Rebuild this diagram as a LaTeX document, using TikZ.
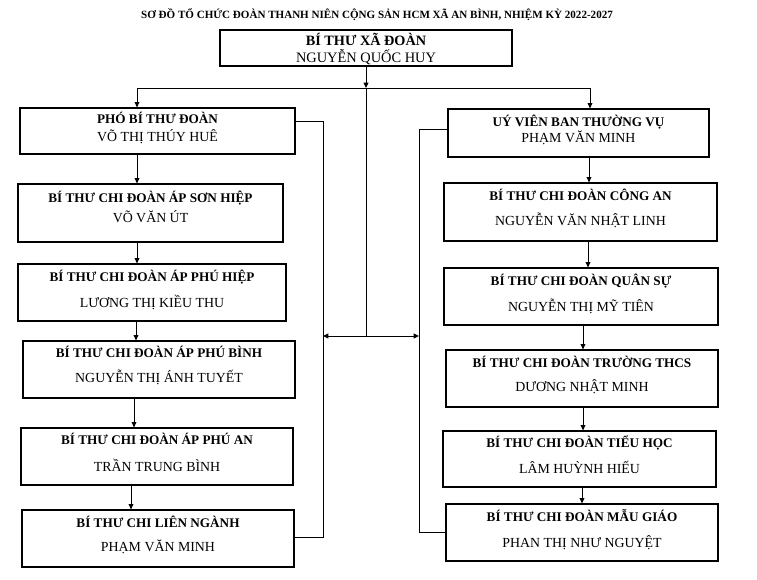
\documentclass[tikz,border=0pt]{standalone}
\usepackage{fontspec}
\setmainfont{Liberation Serif}
\usetikzlibrary{arrows.meta}
\tikzset{
  orgbox/.style={draw=black, line width=0.9pt, inner sep=0pt, rectangle},
  bt/.style={inner sep=0pt, font=\fontsize{9.9}{12}\selectfont\bfseries},
  nt/.style={inner sep=0pt, font=\fontsize{10.4}{12}\selectfont},
  conn/.style={draw=black, line width=0.7pt},
  arr/.style={conn, -{Triangle[length=4pt,width=3.6pt]}},
  darr/.style={conn, {Triangle[length=4pt,width=3.6pt]}-{Triangle[length=4pt,width=3.6pt]}}
}
\newcommand\orgnode[9]{%
  \node[orgbox, minimum width={(#4-#2)*0.75pt}, minimum height={(#5-#3)*0.75pt}] (#1) at ({(#2+#4)/2},{(#3+#5)/2}) {};
  \node[bt, anchor=base] (#1b) at ({(#2+#4)/2},#7) {#6};
  \node[nt, anchor=base] (#1n) at ({(#2+#4)/2},#9) {#8};
}
\begin{document}
\begin{tikzpicture}[x=0.75pt,y=-0.75pt]
\useasboundingbox (0,0) rectangle (757,580);
\fill[white] (0,0) rectangle (757,580);

\node[inner sep=0pt, anchor=base, font=\fontsize{8.3}{10}\selectfont\bfseries] (title) at (377,19)
  {SƠ ĐỒ TỔ CHỨC ĐOÀN THANH NIÊN CỘNG SẢN HCM XÃ AN BÌNH, NHIỆM KỲ 2022-2027};

% top box
\node[orgbox, minimum width={292*0.75pt}, minimum height={36*0.75pt}] (top) at (366,48) {};
\node[inner sep=0pt, anchor=base, font=\fontsize{10.7}{12}\selectfont\bfseries] (topb) at (366,46) {BÍ THƯ XÃ ĐOÀN};
\node[inner sep=0pt, anchor=base, font=\fontsize{10.8}{12}\selectfont] (topn) at (366,63) {NGUYỄN QUỐC HUY};

% left column
\orgnode{pho}{20}{108}{295}{154}{PHÓ BÍ THƯ ĐOÀN}{124}{VÕ THỊ THÚY HUÊ}{141.5}
\orgnode{sonhiep}{18}{184}{283}{242}{BÍ THƯ CHI ĐOÀN ÁP SƠN HIỆP}{202.5}{VÕ VĂN ÚT}{222.5}
\orgnode{phuhiep}{18}{264}{286}{321}{BÍ THƯ CHI ĐOÀN ÁP PHÚ HIỆP}{281.5}{LƯƠNG THỊ KIỀU THU}{307.5}
\orgnode{phubinh}{23}{341}{295}{398}{BÍ THƯ CHI ĐOÀN ÁP PHÚ BÌNH}{357.5}{NGUYỄN THỊ ÁNH TUYẾT}{382.5}
\orgnode{phuan}{21}{428}{293}{485}{BÍ THƯ CHI ĐOÀN ÁP PHÚ AN}{444.5}{TRẦN TRUNG BÌNH}{471.5}
\orgnode{lien}{22}{510}{294}{567}{BÍ THƯ CHI LIÊN NGÀNH}{527.5}{PHẠM VĂN MINH}{551.5}

% right column
\orgnode{uyvien}{448}{109}{709}{157}{UÝ VIÊN BAN THƯỜNG VỤ}{126.5}{PHẠM VĂN MINH}{142.5}
\orgnode{congan}{444}{183}{717}{241}{BÍ THƯ CHI ĐOÀN CÔNG AN}{200.5}{NGUYỄN VĂN NHẬT LINH}{225.5}
\orgnode{quansu}{444}{268}{718}{325}{BÍ THƯ CHI ĐOÀN QUÂN SỰ}{285.5}{NGUYỄN THỊ MỸ TIÊN}{311.5}
\orgnode{thcs}{446}{350}{718}{407}{BÍ THƯ CHI ĐOÀN TRƯỜNG THCS}{367.5}{DƯƠNG NHẬT MINH}{391.5}
\orgnode{tieuhoc}{443}{431}{716}{487}{BÍ THƯ CHI ĐOÀN TIỂU HỌC}{447.5}{LÂM HUỲNH HIẾU}{473.5}
\orgnode{maugiao}{446}{504}{718}{561}{BÍ THƯ CHI ĐOÀN MẪU GIÁO}{521.5}{PHAN THỊ NHƯ NGUYỆT}{547.5}

% helper coordinates
\coordinate (busc) at (366,88);
\coordinate (busl) at (137,88);
\coordinate (busr) at (590,88);
\coordinate (mid) at (366,336);
\coordinate (ml) at (323,336);
\coordinate (mr) at (419,336);
\coordinate (lt) at (323,121);
\coordinate (lb) at (323,537);
\coordinate (rt) at (419,129);
\coordinate (rb) at (419,532);
\coordinate (xa) at (137,0);
\coordinate (xb) at (136,0);
\coordinate (xc) at (134,0);
\coordinate (xd) at (131,0);
\coordinate (xe) at (589,0);
\coordinate (xf) at (588,0);
\coordinate (xg) at (583,0);
\coordinate (xh) at (582,0);

% top connectors
\draw[arr] (top.south -| busc) -- (busc);
\draw[conn] (busl) -- (busr);
\draw[arr] (busl) -- (pho.north -| busl);
\draw[arr] (busr) -- (uyvien.north -| busr);
\draw[conn] (busc) -- (mid);
\draw[darr] (ml) -- (mr);

% left chain
\draw[arr] (pho.south -| xa) -- (sonhiep.north -| xa);
\draw[arr] (sonhiep.south -| xa) -- (phuhiep.north -| xa);
\draw[arr] (phuhiep.south -| xb) -- (phubinh.north -| xb);
\draw[arr] (phubinh.south -| xc) -- (phuan.north -| xc);
\draw[arr] (phuan.south -| xd) -- (lien.north -| xd);
\draw[conn] (pho.east |- lt) -- (lt) -- (lb) -- (lien.east |- lb);

% right chain
\draw[arr] (uyvien.south -| xe) -- (congan.north -| xe);
\draw[arr] (congan.south -| xf) -- (quansu.north -| xf);
\draw[arr] (quansu.south -| xg) -- (thcs.north -| xg);
\draw[arr] (thcs.south -| xg) -- (tieuhoc.north -| xg);
\draw[arr] (tieuhoc.south -| xh) -- (maugiao.north -| xh);
\draw[conn] (uyvien.west |- rt) -- (rt) -- (rb) -- (maugiao.west |- rb);
\end{tikzpicture}
\end{document}
